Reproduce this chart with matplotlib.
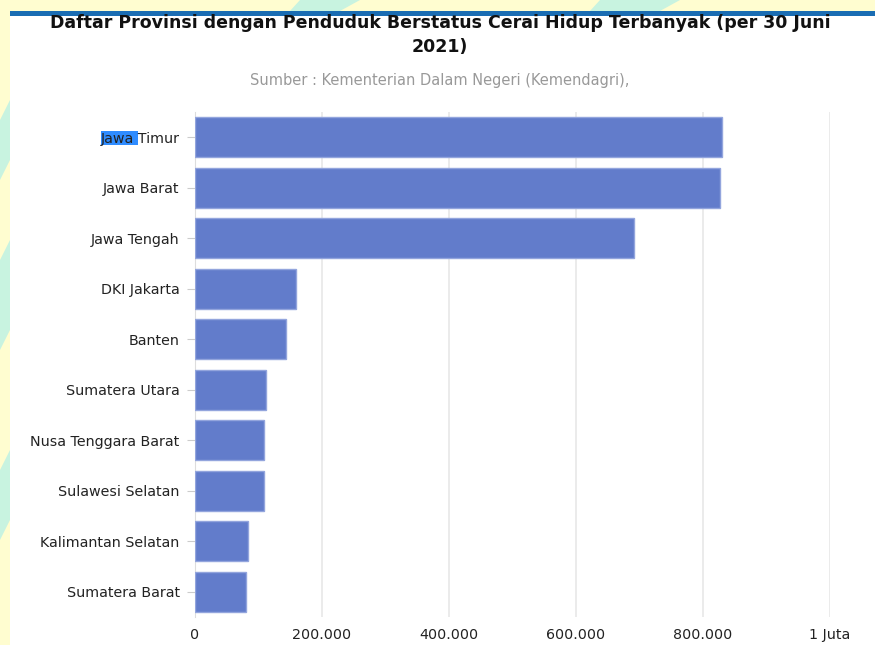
import matplotlib
matplotlib.use("Agg")
import matplotlib.pyplot as plt
from matplotlib.patches import Rectangle, Polygon
from matplotlib.ticker import FuncFormatter

provinces = [
    "Jawa Timur", "Jawa Barat", "Jawa Tengah", "DKI Jakarta", "Banten",
    "Sumatera Utara", "Nusa Tenggara Barat", "Sulawesi Selatan",
    "Kalimantan Selatan", "Sumatera Barat",
]
cerai_hidup = [830000, 827000, 691000, 159000, 143000,
               112000, 109000, 109000, 84000, 81000]
x_ticks = [0, 200000, 400000, 600000, 800000, 1000000]

title = "Daftar Provinsi dengan Penduduk Berstatus Cerai Hidup Terbanyak (per 30 Juni\n2021)"
subtitle = "Sumber : Kementerian Dalam Negeri (Kemendagri),"

W, H = 875, 645
fig = plt.figure(figsize=(W / 100, H / 100), dpi=100)
fig.patch.set_facecolor("#fffdd0")


def px(x0, y0, x1, y1):
    # pixel box (top-left origin) -> figure fraction rect
    return [x0 / W, 1 - y1 / H, (x1 - x0) / W, (y1 - y0) / H]


def add_rect(box, color, z):
    r = px(*box)
    fig.patches.append(Rectangle((r[0], r[1]), r[2], r[3], transform=fig.transFigure,
                                 facecolor=color, edgecolor="none", zorder=z))


# page background: mint shapes on the yellow strip, white card, blue rule
for pts in [[(0, 120), (10, 100), (10, 160), (0, 180)],
            [(0, 260), (10, 240), (10, 330), (0, 350)],
            [(0, 470), (10, 450), (10, 520), (0, 540)],
            [(300, 0), (360, 0), (340, 11), (290, 11)],
            [(600, 0), (680, 0), (660, 11), (590, 11)]]:
    fig.patches.append(Polygon([(x / W, 1 - y / H) for x, y in pts],
                               closed=True, transform=fig.transFigure,
                               facecolor="#c8f3e0", edgecolor="none", zorder=-3))
add_rect((10, 14, W, H), "white", -2)
add_rect((10, 11, W, 16), "#1a6db3", -1)

ax = fig.add_axes(px(195, 112, 830, 617))
ax.set_facecolor("none")
ax.set_zorder(2)

LABEL_SIZE = 10.3
y_pos = list(range(len(provinces)))
ax.barh(y_pos, cerai_hidup, height=0.8, color="#627ccb",
        edgecolor="#93a5dd", linewidth=1.0, zorder=3)
ax.set_ylim(len(provinces) - 0.5, -0.5)
ax.set_xlim(0, 1000000)
ax.set_yticks(y_pos)
ax.set_yticklabels(provinces, fontsize=LABEL_SIZE, color="#222222")
ax.set_xticks(x_ticks)
ax.xaxis.set_major_formatter(FuncFormatter(
    lambda v, _: "1 Juta" if v >= 1000000 else f"{int(v):,}".replace(",", ".")))
ax.tick_params(axis="x", length=0, pad=8, labelsize=LABEL_SIZE, labelcolor="#222222")
ax.tick_params(axis="y", length=6, width=0.8, color="#cccccc", pad=5)
ax.grid(axis="x", color="#e8e8e8", linewidth=1.2, zorder=0)
for side in ["top", "right", "bottom"]:
    ax.spines[side].set_visible(False)
ax.spines["left"].set_color("#dddddd")

fig.text(0.503, 1 - 35 / H, title, ha="center", va="center", fontsize=12.5,
         fontweight="bold", color="#111111", linespacing=1.45)
fig.text(0.503, 1 - 80 / H, subtitle, ha="center", va="center", fontsize=10.5,
         color="#999999")

# selection highlight behind "Jawa " of the first label
fig.canvas.draw()
renderer = fig.canvas.get_renderer()
lab = ax.get_yticklabels()[0]
bb = lab.get_window_extent(renderer)
probe = fig.text(0, 0, "Jawa ", fontsize=LABEL_SIZE)
w = probe.get_window_extent(renderer).width
probe.remove()
fig.patches.append(Rectangle((bb.x0 / W, (bb.y0 + 1) / H), w / W, bb.height / H,
                             transform=fig.transFigure, facecolor="#2f8cff",
                             edgecolor="none", zorder=1))

fig.savefig("out.png", dpi=100)
